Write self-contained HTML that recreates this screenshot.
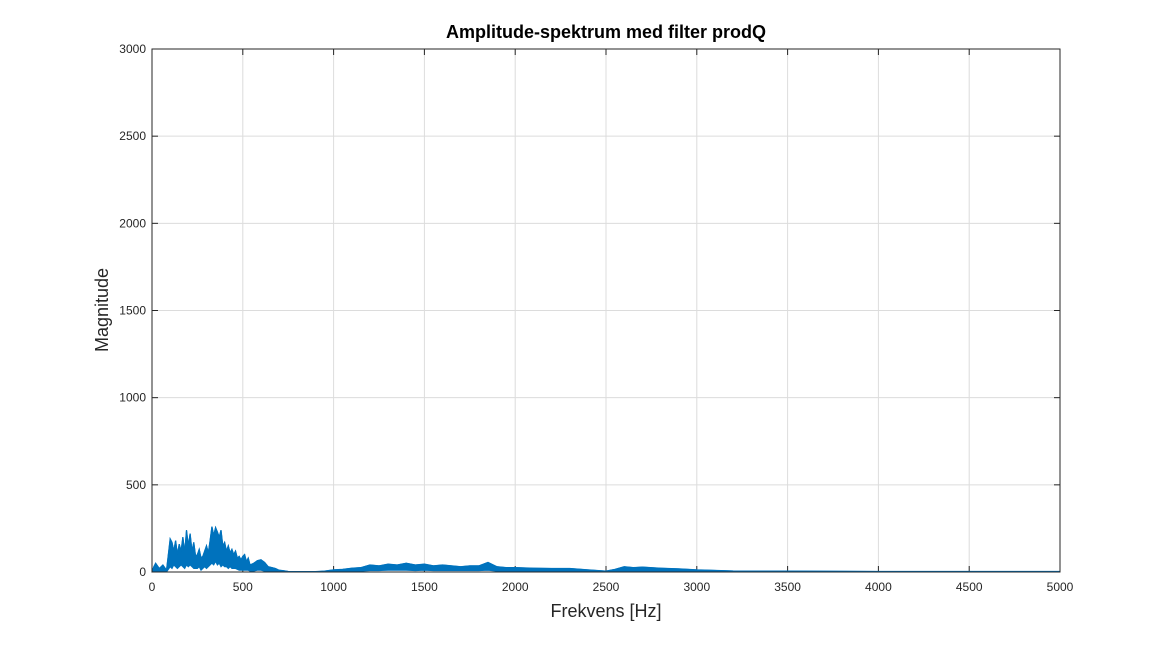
<!DOCTYPE html>
<html><head><meta charset="utf-8"><style>
body{margin:0;background:#fff;font-family:"Liberation Sans",Arial,sans-serif}
</style></head><body>
<svg id="chart" width="1172" height="643" xmlns="http://www.w3.org/2000/svg" font-family="Liberation Sans, Arial, sans-serif"></svg>
<script>
const freqs=[0,10,20,40,60,80,100,110,120,130,140,150,160,170,180,190,200,210,220,230,240,250,260,270,280,290,300,310,320,330,340,350,360,370,380,390,400,410,420,430,440,450,460,470,480,490,500,510,520,530,540,560,580,600,620,640,660,680,700,720,750,800,900,950,1000,1050,1100,1150,1200,1250,1300,1350,1400,1450,1500,1550,1600,1650,1700,1750,1800,1850,1900,1950,2000,2100,2200,2300,2400,2500,2550,2600,2650,2700,2800,2900,3000,3200,3500,4000,5000];
const magHigh=[0,30,50,20,40,10,190,170,120,180,100,160,120,200,110,240,150,220,120,170,90,100,130,80,90,120,150,110,180,260,210,255,230,200,240,150,170,120,150,110,130,100,120,80,90,70,90,100,60,80,40,50,65,70,55,30,25,20,10,8,3,2,2,5,12,15,22,25,40,35,45,40,50,40,45,35,40,35,30,35,35,55,30,25,25,22,20,20,12,5,15,30,25,28,22,18,12,6,5,3,3];
const magLow=[0,0,0,0,0,0,30,20,40,30,20,30,40,30,20,40,30,40,30,20,20,20,30,10,20,30,20,30,40,50,40,60,40,50,30,40,30,30,20,30,20,20,20,15,10,10,10,10,10,10,5,5,10,10,5,2,2,1,0,0,0,0,0,0,0,3,5,5,8,8,10,10,10,8,10,8,8,8,8,8,8,10,5,5,5,5,4,4,2,0,2,5,5,5,4,3,2,0,0,0,0];
const xTicks=[0,500,1000,1500,2000,2500,3000,3500,4000,4500,5000];
const yTicks=[0,500,1000,1500,2000,2500,3000];
const L=152,R=1060,T=49,B=572;
const xs=v=>L+(v/5000)*(R-L), ys=v=>B-(v/3000)*(B-T);
const svg=document.getElementById('chart');const NS='http://www.w3.org/2000/svg';
function mk(t,a,p){const e=document.createElementNS(NS,t);for(const k in a)e.setAttribute(k,a[k]);(p||svg).appendChild(e);return e;}
mk('rect',{x:L,y:T,width:R-L,height:B-T,fill:'#fff'});
xTicks.forEach(v=>{
 const g=mk('line',{x1:xs(v),x2:xs(v),y1:T,y2:B,stroke:'#dcdcdc','stroke-width':1});
 
 mk('line',{x1:xs(v),x2:xs(v),y1:B,y2:B-6,stroke:'#262626'});mk('line',{x1:xs(v),x2:xs(v),y1:T,y2:T+6,stroke:'#262626'});
 const t=mk('text',{x:xs(v),y:B+19,'text-anchor':'middle','font-size':12,fill:'#262626'});t.textContent=v;
 
});
yTicks.forEach(v=>{
 const g=mk('line',{x1:L,x2:R,y1:ys(v),y2:ys(v),stroke:'#dcdcdc','stroke-width':1});
 
 mk('line',{x1:L,x2:L+6,y1:ys(v),y2:ys(v),stroke:'#262626'});mk('line',{x1:R,x2:R-6,y1:ys(v),y2:ys(v),stroke:'#262626'});
 const t=mk('text',{x:L-6,y:ys(v)+4,'text-anchor':'end','font-size':12,fill:'#262626'});t.textContent=v;
 
});
let pts=[];
freqs.forEach((f,i)=>pts.push(xs(f).toFixed(1)+','+ys(magHigh[i]).toFixed(1)));
for(let i=freqs.length-1;i>=0;i--)pts.push(xs(freqs[i]).toFixed(1)+','+ys(magLow[i]).toFixed(1));
const band=mk('polygon',{points:pts.join(' '),fill:'#0072bd',stroke:'#0072bd','stroke-width':1});

const hl=mk('polyline',{points:freqs.map((f,i)=>xs(f)+','+ys(magHigh[i])).join(' '),fill:'none',stroke:'#0072bd','stroke-width':1.2});

const box=mk('rect',{x:L,y:T,width:R-L,height:B-T,fill:'none',stroke:'#262626','stroke-width':1});

const ti=mk('text',{x:(L+R)/2,y:38,'text-anchor':'middle','font-size':18,'font-weight':'bold',fill:'#000'});ti.textContent='Amplitude-spektrum med filter prodQ';

const xl=mk('text',{x:(L+R)/2,y:617,'text-anchor':'middle','font-size':18,fill:'#262626'});xl.textContent='Frekvens [Hz]';

const yl=mk('text',{x:0,y:0,'text-anchor':'middle','font-size':18,fill:'#262626',transform:'translate(108,310) rotate(-90)'});yl.textContent='Magnitude';

</script>
</body></html>
